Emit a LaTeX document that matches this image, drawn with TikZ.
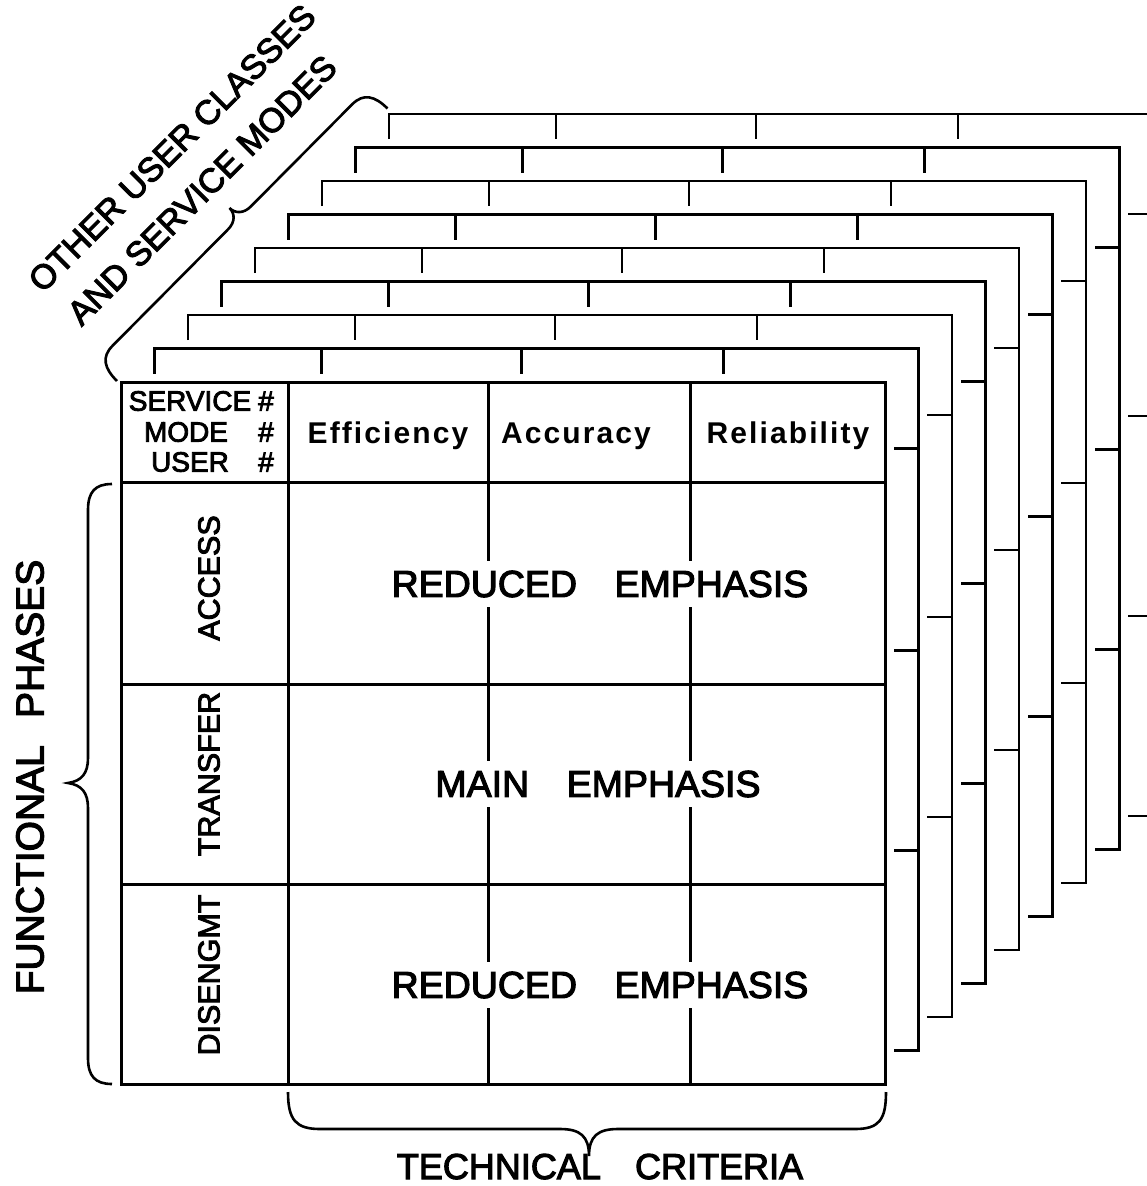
\documentclass[tikz,border=0pt]{standalone}
\usepackage{fontspec}
\setmainfont{Liberation Sans}
\newfontfamily\letterfont{Liberation Sans}[FakeBold=3]
\newfontfamily\headfont{Liberation Sans}[LetterSpace=7]
\begin{document}
\begin{tikzpicture}[x=1pt,y=-1pt,line join=miter]
\tikzset{
  frame/.style={line width=3pt},
  layer/.style={line width=2.8pt},
  bracket/.style={line width=2.6pt},
  lbl/.style={inner sep=0pt,text=black},
  bigtext/.style={lbl,font=\letterfont\fontsize{37.5}{40}\selectfont},
  cover/.style={fill=white,inner xsep=3pt,inner ysep=10pt},
  rowtext/.style={lbl,rotate=90,font=\letterfont\fontsize{30.5}{33}\selectfont},
  keytext/.style={lbl,font=\letterfont\fontsize{28}{30}\selectfont},
  crittext/.style={lbl,font=\headfont\bfseries\fontsize{30}{32}\selectfont},
  diagtext/.style={lbl,rotate=45,font=\letterfont\fontsize{34}{37}\selectfont},
}
\useasboundingbox (0,0) rectangle (1147,1186);
\clip (0,0) rectangle (1147,1186);

% stacked sheets behind the front table
\foreach \k in {1,...,8}{
  \pgfmathsetmacro{\d}{33.5*\k}
  \draw[layer] ({121+\d},{407-\d}) -- ({121+\d},{382-\d}) -- ({885+\d},{382-\d})
               -- ({885+\d},{1084-\d}) -- ({860+\d},{1084-\d});
  \foreach \cx in {288,488,690}
    \draw[layer] ({\cx+\d},{382-\d}) -- ({\cx+\d},{407-\d});
  \foreach \ry in {482,684,884}
    \draw[layer] ({885+\d},{\ry-\d}) -- ({860+\d},{\ry-\d});
}

% front table
\draw[frame] (121,382) rectangle (885,1084);
\foreach \ry in {482,684,884}
  \draw[frame] (121,\ry) -- (885,\ry);
\foreach \cx in {288,488,690}
  \draw[frame] (\cx,382) -- (\cx,1084);

% header cell
\node[keytext] (svc) at (190,401) {SERVICE};
\node[keytext] (mode) at (186,432) {MODE};
\node[keytext] (user) at (190,462) {USER};
\node[keytext] (svcn) at (266,401) {\#};
\node[keytext] (moden) at (266,432) {\#};
\node[keytext] (usern) at (266,462) {\#};

% criteria headings
\node[crittext,anchor=base] (eff) at (388,443) {Efficiency};
\node[crittext,anchor=base] (acc) at (576,443) {Accuracy};
\node[crittext,anchor=base] (rel) at (788,443) {Reliability};

% phase labels
\node[rowtext] (access) at (209,578) {ACCESS};
\node[rowtext] (transfer) at (209,774) {TRANSFER};
\node[rowtext] (diseng) at (209,975) {DISENGMT};

% emphasis in the body rows
\node[bigtext,cover] (emA) at (600,584) {REDUCED\quad EMPHASIS};
\node[bigtext,cover] (emB) at (598,784) {MAIN\quad EMPHASIS};
\node[bigtext,cover] (emC) at (600,985) {REDUCED\quad EMPHASIS};

% left brace
\draw[bracket] (112,484) .. controls (95,484) and (88,492) .. (88,510) -- (88,758)
  .. controls (88,773) and (82,781) .. (68,783)
  .. controls (82,785) and (88,793) .. (88,808) -- (88,1058)
  .. controls (88,1076) and (95,1084) .. (112,1084);
\node[lbl,rotate=90,font=\letterfont\fontsize{39}{42}\selectfont] (phases) at (30,777)
  {FUNCTIONAL\hspace{0.7em}PHASES};

% bottom brace
\draw[bracket] (288,1092) .. controls (288,1120) and (296,1129) .. (320,1129) -- (560,1129)
  .. controls (580,1129) and (589,1136) .. (589,1156)
  .. controls (589,1136) and (598,1129) .. (618,1129) -- (855,1129)
  .. controls (879,1129) and (886,1120) .. (886,1092);
\node[lbl,anchor=base,font=\letterfont\fontsize{36}{39}\selectfont] (crit) at (600,1179)
  {TECHNICAL\hspace{0.95em}CRITERIA};

% diagonal brace
\draw[bracket] (117,381) .. controls (104.2,368.3) and (101.3,357.0) .. (112.6,345.7)
  -- (228.1,229.3) .. controls (235.2,222.2) and (235.2,213.6) .. (229.5,208.0)
  .. controls (235.2,213.6) and (243.6,213.7) .. (250.7,206.6)
  -- (352.1,104.4) .. controls (363.4,93.0) and (374.7,95.8) .. (387.5,108.5);
\node[diagtext] (other1) at (172,148) {OTHER USER CLASSES};
\node[diagtext] (other2) at (202,190) {AND SERVICE MODES};
\end{tikzpicture}
\end{document}
